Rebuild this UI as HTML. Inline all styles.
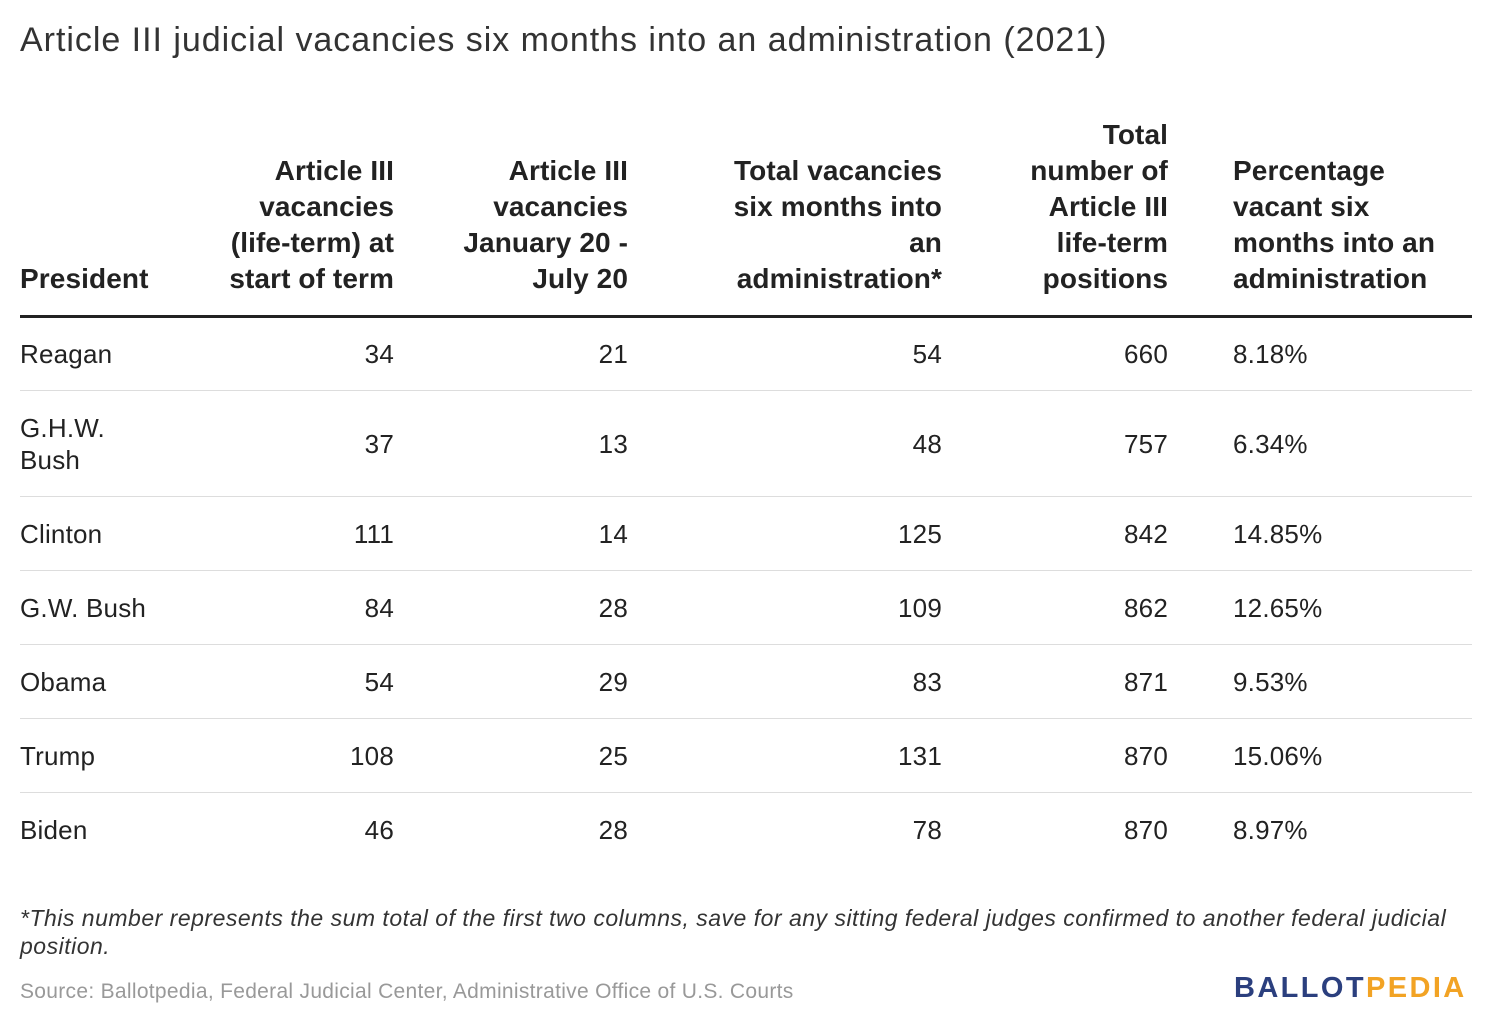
<!DOCTYPE html>
<html><head><meta charset="utf-8"><style>
body{margin:0;width:1492px;height:1034px;background:#fff;font-family:"Liberation Sans",sans-serif;color:#333;position:relative;overflow:hidden}
.a{position:absolute;white-space:nowrap}
.t{left:20px;top:21px;font-size:34px;color:#333;letter-spacing:0.97px}
.h{font-weight:bold;font-size:28px;line-height:36px;color:#222;letter-spacing:0.1px;white-space:normal}
.r{text-align:right}
.c{font-size:26px;line-height:32px;color:#222;letter-spacing:0.2px}
.line{position:absolute;left:20px;width:1452px;height:1px;background:#ddd}
</style></head><body>
<div class="a t">Article III judicial vacancies six months into an administration (2021)</div>

<div class="a h" style="left:20px;top:261px">President</div>
<div class="a h r" style="right:1098px;top:153px">Article III<br>vacancies<br>(life-term) at<br>start of term</div>
<div class="a h r" style="right:864px;top:153px">Article III<br>vacancies<br>January 20 -<br>July 20</div>
<div class="a h r" style="right:550px;top:153px">Total vacancies<br>six months into<br>an<br>administration*</div>
<div class="a h r" style="right:324px;top:117px">Total<br>number of<br>Article III<br>life-term<br>positions</div>
<div class="a h" style="left:1233px;top:153px">Percentage<br>vacant six<br>months into an<br>administration</div>

<div class="a" style="left:20px;top:315px;width:1452px;height:3px;background:#222"></div>
<div class="line" style="top:390px"></div>
<div class="line" style="top:496px"></div>
<div class="line" style="top:570px"></div>
<div class="line" style="top:644px"></div>
<div class="line" style="top:718px"></div>
<div class="line" style="top:792px"></div>

<div id="rows"></div>
<script>
var d=[["Reagan","34","21","54","660","8.18%",354],["G.H.W.<br>Bush","37","13","48","757","6.34%",444],["Clinton","111","14","125","842","14.85%",534],["G.W. Bush","84","28","109","862","12.65%",608],["Obama","54","29","83","871","9.53%",682],["Trump","108","25","131","870","15.06%",756],["Biden","46","28","78","870","8.97%",830]];
var R=[1098,864,550,324],h="";
d.forEach(function(r){var y=r[6];var ny=r[0].indexOf("<br>")>=0?y-32:y-16;
h+='<div class="a c" style="left:20px;top:'+ny+'px">'+r[0]+'</div>';
for(var i=0;i<4;i++)h+='<div class="a c r" style="right:'+R[i]+'px;top:'+(y-16)+'px">'+r[i+1]+'</div>';
h+='<div class="a c" style="left:1233px;top:'+(y-16)+'px">'+r[5]+'</div>';});
document.getElementById("rows").innerHTML=h;
</script>

<div class="a" style="left:20px;top:904px;font-style:italic;font-size:23px;line-height:28px;color:#333;white-space:normal;width:1445px;letter-spacing:0.5px">*This number represents the sum total of the first two columns, save for any sitting federal judges confirmed to another federal judicial position.</div>
<div class="a" style="left:20px;top:980px;font-size:21px;color:#999;letter-spacing:0.3px">Source: Ballotpedia, Federal Judicial Center, Administrative Office of U.S. Courts</div>
<div class="a" style="left:1234px;top:972px;font-size:29px;font-weight:bold;letter-spacing:2.4px"><span style="color:#2b3f7e">BALLOT</span><span style="color:#f2a324">PEDIA</span></div>
</body></html>
